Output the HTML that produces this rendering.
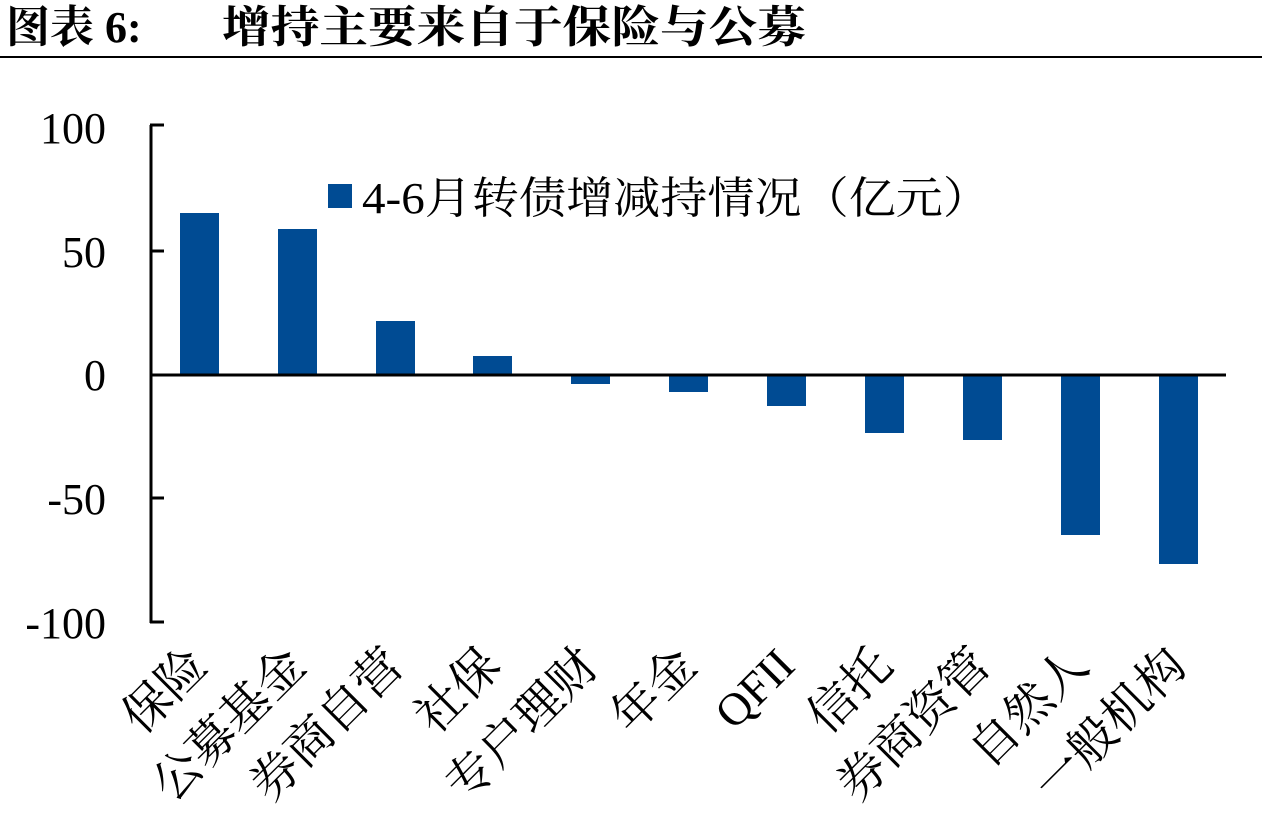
<!DOCTYPE html>
<html><head><meta charset="utf-8"><style>
html,body{margin:0;padding:0;background:#fff;}
svg{display:block;}
</style></head><body>
<svg width="1262" height="836" xmlns="http://www.w3.org/2000/svg">
<g font-family="Liberation Serif, Noto Serif CJK SC, serif" font-weight="bold" font-size="44" fill="#000">
<text x="6" y="42">图表 6:</text>
<text x="222" y="42" textLength="584" lengthAdjust="spacingAndGlyphs">增持主要来自于保险与公募</text>
</g>
<line x1="0" y1="57" x2="1262" y2="57" stroke="#000" stroke-width="2"/>
<g font-family="Liberation Serif, Noto Serif CJK SC, serif" font-size="44" fill="#000" text-anchor="end">
<text x="106" y="143">100</text>
<text x="106" y="267">50</text>
<text x="106" y="390">0</text>
<text x="106" y="514">-50</text>
<text x="106" y="638">-100</text>
</g>
<g fill="#004b93">
<rect x="180" y="213" width="39" height="161"/>
<rect x="278" y="229" width="39" height="145"/>
<rect x="376" y="321" width="39" height="53"/>
<rect x="473" y="356" width="39" height="18"/>
<rect x="571" y="374" width="39" height="10"/>
<rect x="669" y="374" width="39" height="18"/>
<rect x="767" y="374" width="39" height="32"/>
<rect x="865" y="374" width="39" height="59"/>
<rect x="963" y="374" width="39" height="66"/>
<rect x="1061" y="374" width="39" height="161"/>
<rect x="1159" y="374" width="39" height="190"/>
</g>
<g stroke="#000" stroke-width="3" fill="none">
<line x1="151" y1="125" x2="151" y2="623"/>
<line x1="150" y1="125" x2="164" y2="125"/>
<line x1="150" y1="251" x2="164" y2="251"/>
<line x1="150" y1="498" x2="164" y2="498"/>
<line x1="150" y1="622" x2="164" y2="622"/>
<line x1="150" y1="375" x2="1226" y2="375"/>
</g>
<rect x="328" y="184" width="24" height="24" fill="#004b93"/>
<text x="362" y="213" font-family="Liberation Serif, Noto Serif CJK SC, serif" font-size="44" fill="#000" textLength="628" lengthAdjust="spacingAndGlyphs">4-6月转债增减持情况（亿元）</text>
<g font-family="Liberation Serif, Noto Serif CJK SC, serif" font-size="48" fill="#000" text-anchor="end">
<text transform="translate(210,668) rotate(-45)">保险</text>
<text transform="translate(308,668) rotate(-45)">公募基金</text>
<text transform="translate(406,668) rotate(-45)">券商自营</text>
<text transform="translate(503,668) rotate(-45)">社保</text>
<text transform="translate(601,668) rotate(-45)">专户理财</text>
<text transform="translate(699,668) rotate(-45)">年金</text>
<text transform="translate(797,668) rotate(-45)" font-size="46">QFII</text>
<text transform="translate(895,668) rotate(-45)">信托</text>
<text transform="translate(993,668) rotate(-45)">券商资管</text>
<text transform="translate(1091,668) rotate(-45)">自然人</text>
<text transform="translate(1189,668) rotate(-45)">一般机构</text>
</g>
</svg>
</body></html>
